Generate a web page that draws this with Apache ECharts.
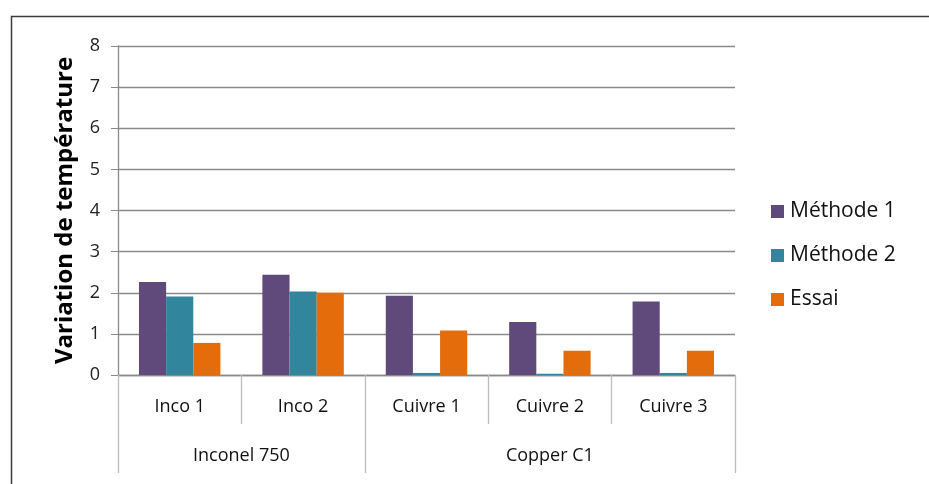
<!DOCTYPE html>
<html>
<head>
<meta charset="utf-8">
<script src="https://cdn.jsdelivr.net/npm/echarts@6/dist/echarts.min.js"></script>
<style>html,body{margin:0;padding:0;background:#fff;}#c{width:929px;height:484px;}</style>
</head>
<body>
<div id="c"></div>
<script>
const categories = ['Inco 1', 'Inco 2', 'Cuivre 1', 'Cuivre 2', 'Cuivre 3'];
const groups = ['Inconel 750', 'Copper C1'];
const groupBounds = [0, 2, 5];
const groupCenters = [1, 3.5];
const methode1 = [2.26, 2.44, 1.93, 1.29, 1.79];
const methode2 = [1.91, 2.03, 0.05, 0.03, 0.05];
const essai = [0.78, 2.0, 1.08, 0.59, 0.59];
const yTicks = [0, 1, 2, 3, 4, 5, 6, 7, 8];

const FONT = '"Open Sans", sans-serif';
const chart = echarts.init(document.getElementById('c'), null, {renderer: 'canvas'});
const barStyle = c => ({color: c});
chart.setOption({
  animation: false,
  backgroundColor: '#fff',
  graphic: [{
    type: 'rect', left: 9, top: 14, shape: {width: 940, height: 480},
    style: {fill: 'none', stroke: '#3c3c3c', lineWidth: 1.5}, silent: true
  }],
  grid: {left: 118, right: 194, top: 46, bottom: 109},
  legend: {
    orient: 'vertical', left: 766, top: 196, itemGap: 23,
    itemWidth: 13, itemHeight: 13, icon: 'rect',
    textStyle: {fontFamily: FONT, fontSize: 21, color: '#111', padding: [0, 0, 0, 1]},
    data: ['Méthode 1', 'Méthode 2', 'Essai']
  },
  xAxis: [{
    type: 'category', data: categories, position: 'bottom',
    axisLine: {lineStyle: {color: '#8a8a8a', width: 1.3}},
    axisTick: {show: true, length: 49, lineStyle: {color: '#bdbdbd', width: 1.3}},
    axisLabel: {fontFamily: FONT, fontSize: 18, color: '#111', margin: 23}
  }, {
    type: 'value', min: 0, max: 5, position: 'bottom', offset: 49,
    axisLine: {show: false},
    splitLine: {show: false},
    axisTick: {show: true, customValues: groupBounds, length: 49, lineStyle: {color: '#bdbdbd', width: 1.3}},
    axisLabel: {customValues: groupCenters, fontFamily: FONT, fontSize: 18, color: '#111', margin: 23,
      formatter: v => groups[groupCenters.indexOf(v)] || ''}
  }],
  yAxis: {
    type: 'value', min: yTicks[0], max: yTicks[yTicks.length - 1], interval: 1,
    name: 'Variation de température', nameLocation: 'middle', nameGap: 41,
    nameTextStyle: {fontFamily: FONT, fontSize: 24, fontWeight: 'bold', color: '#000'},
    axisLine: {show: true, lineStyle: {color: '#8a8a8a', width: 1.3}},
    axisTick: {show: true, length: 7, lineStyle: {color: '#8a8a8a'}},
    axisLabel: {fontFamily: FONT, fontSize: 18, color: '#222', margin: 18},
    splitLine: {lineStyle: {color: '#8a8a8a', width: 1.3}}
  },
  series: [
    {name: 'Méthode 1', type: 'bar', data: methode1, barGap: '0%', barCategoryGap: '34%', itemStyle: barStyle('#604A7B')},
    {name: 'Méthode 2', type: 'bar', data: methode2, barGap: '0%', barCategoryGap: '34%', itemStyle: barStyle('#31859C')},
    {name: 'Essai', type: 'bar', data: essai, barGap: '0%', barCategoryGap: '34%', itemStyle: barStyle('#E46C0A')}
  ]
});
</script>
</body>
</html>
